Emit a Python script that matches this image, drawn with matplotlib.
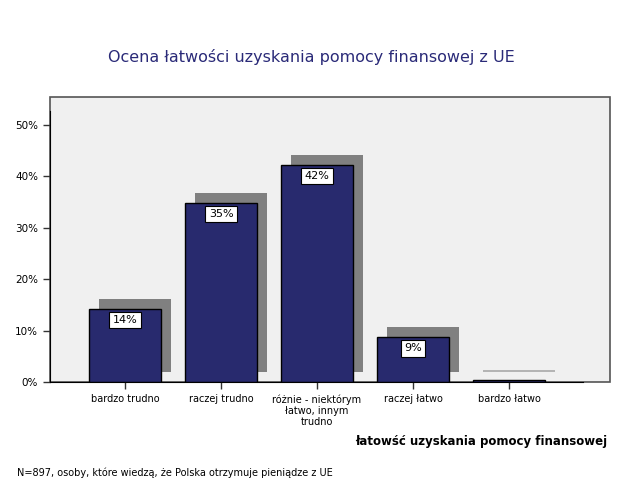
import matplotlib
matplotlib.use("Agg")
from matplotlib import pyplot as plt
from matplotlib.patches import Rectangle
import numpy as np

categories = ["bardzo trudno", "raczej trudno", "różnie - niektórym\nłatwo, innym\ntrudno",
              "raczej łatwo", "bardzo łatwo"]
values = [14.2, 34.8, 42.2, 8.7, 0.3]
labels = ["14%", "35%", "42%", "9%", ""]
yticks = [0, 10, 20, 30, 40, 50]

navy = "#282a6e"

fig = plt.figure(figsize=(6.25, 5.01), dpi=100)
W, H = 625, 501
# plot frame in pixels: x 50..610, y 97..382
ax = fig.add_axes([50 / W, 1 - 382 / H, 560 / W, 285 / H])

px_x = 96.0   # pixels per category
px_y = 5.14   # pixels per percent
ax.set_xlim(-75 / px_x, (610 - 125) / px_x)
ax.set_ylim(0, 285 / px_y)

# background frame
ax.patch.set_visible(False)
ax.add_patch(Rectangle((0, 0), 1, 1, transform=ax.transAxes, facecolor="#f0f0f0",
                       edgecolor="#555555", lw=1.2, zorder=0, clip_on=False))

x = np.arange(len(categories))
dx = 10 / px_x
dy = 10 / px_y
shadow_cols = ["#808080"] * 4 + ["#b4b4b4"]
ax.bar(x + dx, values, width=0.75, bottom=dy, color=shadow_cols, zorder=1)
ax.bar(x, values, width=0.75, color=navy, edgecolor="black", lw=1, zorder=2)

for xi, v, lab in zip(x, values, labels):
    if lab:
        ax.text(xi, v - 11 / px_y, lab, ha="center", va="center", fontsize=8, zorder=3,
                bbox=dict(boxstyle="square,pad=0.3", fc="white", ec="black", lw=0.8))

for s in ["top", "right"]:
    ax.spines[s].set_visible(False)
ax.spines["left"].set_bounds(0, (382 - 111) / px_y)
ax.spines["bottom"].set_bounds(-75 / px_x, (583 - 125) / px_x)
ax.spines["left"].set_zorder(4)
ax.spines["bottom"].set_zorder(4)

ax.set_yticks(yticks)
ax.set_yticklabels([f"{t}%" for t in yticks], fontsize=7.5)
ax.set_xticks(x)
ax.set_xticklabels(categories, fontsize=7, linespacing=1.1)
ax.tick_params(axis="both", direction="out", length=5, width=1, color="#333333")
ax.tick_params(axis="x", pad=4)

fig.text(311 / W, 1 - 57 / H, "Ocena łatwości uzyskania pomocy finansowej z UE",
         ha="center", va="center", fontsize=11.5, color="#2a2a78")
fig.text(607 / W, 1 - 441 / H, "łatowść uzyskania pomocy finansowej",
         ha="right", va="center", fontsize=8.5, fontweight="bold")
fig.text(17 / W, 1 - 473 / H, "N=897, osoby, które wiedzą, że Polska otrzymuje pieniądze z UE",
         ha="left", va="center", fontsize=7)

fig.savefig("out.png", dpi=100)
